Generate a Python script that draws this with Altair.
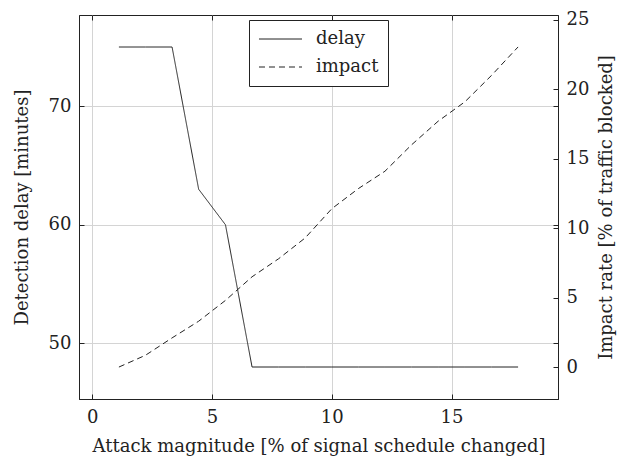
import altair as alt
import pandas as pd

# Data
magnitude = [1.11, 2.22, 3.33, 4.44, 5.56, 6.67, 7.78, 8.89, 10.0, 11.11,
             12.22, 13.33, 14.44, 15.56, 16.67, 17.78]
delay = [75, 75, 75, 63, 60, 48, 48, 48, 48, 48, 48, 48, 48, 48, 48, 48]
impact = [0.0, 0.85, 2.1, 3.3, 4.8, 6.5, 7.8, 9.3, 11.4, 12.85,
          14.1, 16.0, 17.7, 19.1, 21.0, 23.05]

x_ticks = [0, 5, 10, 15]
delay_ticks = [50, 60, 70]
impact_ticks = [0, 5, 10, 15, 20, 25]
series_names = ["delay", "impact"]

df = pd.DataFrame({"x": magnitude, "delay": delay, "impact": impact})

FONT = "DejaVu Serif"
FS = 18
INK = "#222222"
GRID = "#d4d4d4"

xdom = [-0.557, 19.447]
ldom = [45.3, 77.7]
rdom = [-2.3, 25.35]

xs = alt.Scale(domain=xdom, nice=False, zero=False)
ls = alt.Scale(domain=ldom, nice=False, zero=False)
rs = alt.Scale(domain=rdom, nice=False, zero=False)

TOP = 7
H = 391 - TOP

dash_scale = alt.Scale(domain=series_names, range=[[1, 0], [6, 4]])
dash_legend = alt.Legend(
    title=None, orient="none", legendX=170, legendY=12 - TOP,
    symbolType="stroke", symbolSize=1850, symbolStrokeWidth=1,
    symbolStrokeColor=INK, labelFont=FONT, labelFontSize=FS,
    labelColor=INK, strokeColor=INK, fillColor="white", padding=9,
    rowPadding=8, labelOffset=13, cornerRadius=0, clipHeight=20,
)

base = alt.Chart(df)

ticks_only = dict(labels=False, domain=False, grid=False, ticks=True,
                  tickSize=5, tickColor=INK, title=None, offset=-5)

delay_line = base.transform_calculate(series="'delay'").mark_line(
    color=INK, strokeWidth=1).encode(
    x=alt.X("x:Q", scale=xs,
            axis=alt.Axis(values=x_ticks, title="Attack magnitude [% of signal schedule changed]",
                          ticks=False, grid=True, gridColor=GRID, domainColor=INK,
                          labelPadding=9, titlePadding=11, orient="bottom")),
    y=alt.Y("delay:Q", scale=ls,
            axis=alt.Axis(values=delay_ticks, title="Detection delay [minutes]",
                          ticks=False, grid=True, gridColor=GRID, domainColor=INK,
                          labelPadding=8, titlePadding=17, orient="left")),
    strokeDash=alt.StrokeDash("series:N", scale=dash_scale, legend=dash_legend),
)

impact_line = base.transform_calculate(series="'impact'").mark_line(
    color=INK, strokeWidth=1).encode(
    x=alt.X("x:Q", scale=xs, axis=alt.Axis(orient="top", **ticks_only, values=x_ticks)),
    y=alt.Y("impact:Q", scale=rs,
            axis=alt.Axis(values=impact_ticks, title="Impact rate [% of traffic blocked]",
                          ticks=False, grid=False, domainColor=INK, titleAngle=270,
                          titleBaseline="top",
                          labelPadding=8, titlePadding=9, orient="right")),
    strokeDash=alt.StrokeDash("series:N", scale=dash_scale, legend=dash_legend),
)

tick_a = base.mark_point(opacity=0).encode(
    x=alt.X("x:Q", scale=xs, axis=alt.Axis(orient="bottom", **ticks_only, values=x_ticks)),
    y=alt.Y("delay:Q", scale=ls, axis=alt.Axis(orient="left", **ticks_only, values=delay_ticks)),
)

tick_b = base.mark_point(opacity=0).encode(
    x=alt.X("x:Q", scale=xs, axis=None),
    y=alt.Y("impact:Q", scale=rs, axis=alt.Axis(orient="right", **ticks_only, values=impact_ticks)),
)

tick_c = base.mark_point(opacity=0).encode(
    x=alt.X("x:Q", scale=xs, axis=None),
    y=alt.Y("delay:Q", scale=ls, axis=alt.Axis(orient="right", **ticks_only, values=delay_ticks)),
)

chart = alt.layer(delay_line, impact_line, tick_a, tick_b, tick_c).resolve_scale(
    y="independent"
).resolve_axis(
    x="independent", y="independent"
).properties(
    width=479, height=H,
    autosize=alt.AutoSizeParams(type="none"),
    padding={"left": 71, "top": TOP, "right": 61, "bottom": 58},
).configure_view(
    stroke=INK, strokeWidth=1
).configure_axis(
    labelFont=FONT, titleFont=FONT, labelFontSize=FS, titleFontSize=FS,
    labelColor=INK, titleColor=INK, titleFontWeight="normal",
)

chart.save("out.html", embed_options={"renderer": "svg", "actions": False})
